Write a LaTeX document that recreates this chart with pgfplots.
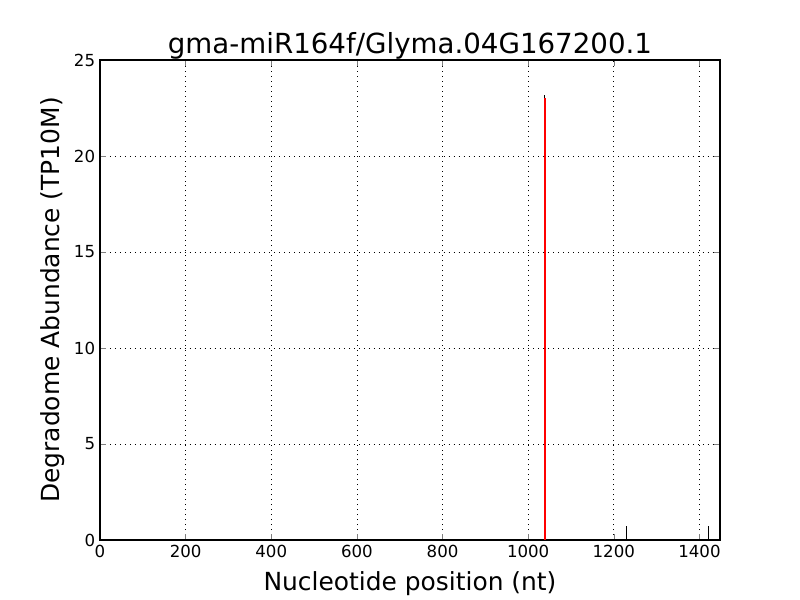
\documentclass[border=0pt]{standalone}
\usepackage{pgfplots}
\pgfplotsset{compat=1.18}
\usepackage{fontspec}
\setmainfont{DejaVu Sans}
\begin{document}
\begin{tikzpicture}[x=1in,y=1in]
\path (0,0) rectangle (8,6);
\begin{axis}[
  at={(1in,0.6in)}, anchor=south west,
  width=6.2in, height=4.8in, scale only axis,
  xmin=0, xmax=1448, ymin=0, ymax=25,
  xtick={0,200,...,1400}, ytick={0,5,...,25},
  grid=major, major grid style={black, line width=0.5pt, dash pattern=on 0.6pt off 3pt},
  tick align=inside, tick pos=both,
  major tick length=4pt,
  tick label style={font=\fontsize{12}{14}\selectfont},
  /pgf/number format/assume math mode=true,
  scaled ticks=false,
  xticklabel style={/pgf/number format/1000 sep={}},
  xlabel={Nucleotide position (nt)},
  ylabel={Degradome Abundance (TP10M)},
  label style={font=\fontsize{18}{21}\selectfont},
  xlabel style={yshift=-3pt},
  title={gma-miR164f/Glyma.04G167200.1},
  title style={font=\fontsize{20}{24}\selectfont, yshift=-9pt},
  axis line style={black, line width=0.8pt},
]
\addplot[black, line width=0.8pt, ycomb] coordinates {(1039,23.2) (1229,0.73) (1421,0.73)};
\addplot[red, line width=1.5pt, ycomb] coordinates {(1039,23.0)};
\end{axis}
\end{tikzpicture}
\end{document}
